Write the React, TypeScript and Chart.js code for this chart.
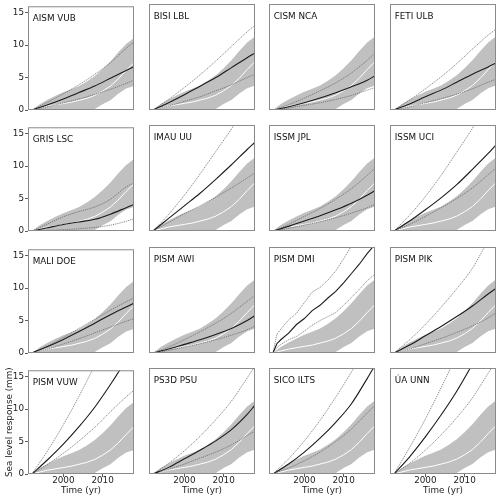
import React, { useEffect, useRef } from "react";
import { Chart, registerables } from "chart.js";

Chart.register(...registerables);

const FONT = "'DejaVu Sans', sans-serif";
const FS = 8.8;

const MODELS = [
  "AISM VUB", "BISI LBL", "CISM NCA", "FETI ULB",
  "GRIS LSC", "IMAU UU", "ISSM JPL", "ISSM UCI",
  "MALI DOE", "PISM AWI", "PISM DMI", "PISM PIK",
  "PISM VUW", "PS3D PSU", "SICO ILTS", "ÚA UNN",
];

const X_TICKS = [2000, 2010];
const Y_TICKS = [0, 5, 10, 15];

// observational envelope (grey band) and its median (white line)
const OBS_YEARS = [1992, 1994, 1996, 1998, 2000, 2002, 2004, 2006, 2008, 2010, 2012, 2014, 2016, 2018];
const OBS_UPPER = [0, 0.9, 1.6, 2.2, 2.75, 3.2, 3.7, 4.4, 5.25, 6.3, 7.5, 8.9, 10.2, 11.1];
const OBS_LOWER = [0, 0, 0, 0, 0, 0, 0, 0, 0.15, 0.9, 1.5, 2.5, 3.3, 3.7];
const OBS_MEDIAN = [0, 0.3, 0.6, 0.8, 1.0, 1.2, 1.5, 1.8, 2.25, 2.9, 3.7, 4.8, 6.1, 7.3];

// model years (smooth models) and PISM DMI years
const MODEL_YEARS = [1992, 1996, 2000, 2004, 2008, 2012, 2016, 2018];
const DMI_YEARS = [1992, 1993, 1994, 1996, 1998, 2000, 2002, 2004, 2006, 2008, 2010, 2012, 2014, 2016, 2018];

// model central estimate (black line)
const MODEL_MID = [
  [0, 0.8, 1.7, 2.7, 3.7, 4.9, 6.1, 6.7],
  [0, 1.1, 2.3, 3.6, 4.9, 6.4, 7.9, 8.6],
  [0, 0.5, 1.1, 1.8, 2.6, 3.5, 4.5, 5.15],
  [0, 0.9, 2.0, 3.0, 4.2, 5.4, 6.5, 7.1],
  [0, 0.5, 1.0, 1.4, 1.8, 2.6, 3.6, 4.1],
  [0, 1.9, 3.8, 5.7, 7.8, 10.0, 12.3, 13.4],
  [0, 0.7, 1.5, 2.3, 3.2, 4.2, 5.4, 6.1],
  [0, 1.5, 3.2, 5.0, 7.0, 9.3, 11.7, 13.0],
  [0, 1.0, 2.1, 3.3, 4.6, 5.9, 7.1, 7.7],
  [0, 0.6, 1.3, 2.0, 2.8, 3.7, 4.9, 5.65],
  [0, 1.4, 2.0, 3.0, 4.3, 5.2, 6.4, 7.2, 8.3, 9.3, 10.6, 12.0, 13.4, 15.0, 16.4],
  [0, 1.2, 2.6, 4.0, 5.5, 7.1, 8.9, 9.75],
  [0, 2.2, 4.6, 7.3, 10.3, 13.8, 17.6, 19.6],
  [0, 1.0, 2.3, 3.6, 5.0, 6.7, 9.0, 10.4],
  [0, 1.5, 3.3, 5.4, 7.8, 10.6, 14.4, 16.4],
  [0, 2.6, 5.6, 8.9, 12.5, 16.6, 21.0, 23.5],
];

// model upper bound (thin dotted line)
const MODEL_HIGH = [
  [0, 1.2, 2.5, 3.9, 5.5, 7.3, 9.5, 10.5],
  [0, 1.6, 3.4, 5.3, 7.4, 9.6, 11.8, 12.8],
  [0, 0.8, 1.8, 2.9, 4.1, 5.6, 7.5, 8.6],
  [0, 1.5, 3.2, 5.0, 7.0, 9.2, 11.3, 12.2],
  [0, 1.1, 2.2, 3.0, 3.7, 4.9, 6.8, 7.4],
  [0, 2.5, 5.4, 8.6, 12.0, 15.4, 19.2, 21.2],
  [0, 1.0, 2.2, 3.4, 4.8, 6.4, 8.4, 9.5],
  [0, 2.4, 5.2, 8.4, 11.9, 15.5, 19.5, 21.5],
  [0, 1.1, 2.4, 3.8, 5.2, 6.6, 7.9, 8.5],
  [0, 0.9, 2.0, 3.2, 4.5, 6.0, 7.8, 8.75],
  [0, 2.8, 3.6, 5.0, 6.0, 7.6, 9.2, 9.9, 11.0, 12.4, 14.2, 16.2, 18.5, 21.0, 23.0],
  [0, 2.0, 4.3, 6.9, 9.7, 12.8, 16.9, 18.5],
  [0, 3.6, 7.6, 12.0, 16.8, 22.0, 27.0, 30.0],
  [0, 1.6, 3.5, 5.7, 8.2, 11.0, 14.5, 16.3],
  [0, 2.3, 5.0, 8.1, 11.6, 15.4, 19.6, 21.8],
  [0, 4.0, 8.3, 13.0, 18.0, 23.5, 29.0, 32.0],
];

// model lower bound (thin dotted line)
const MODEL_LOW = [
  [0, 0.5, 1.1, 1.7, 2.4, 3.2, 4.1, 4.6],
  [0, 0.6, 1.3, 2.0, 2.9, 3.8, 4.9, 5.4],
  [0, 0.3, 0.7, 1.1, 1.6, 2.2, 3.0, 3.4],
  [0, 0.5, 1.1, 1.7, 2.4, 3.2, 4.2, 4.65],
  [0, 0.1, 0.2, 0.35, 0.55, 0.9, 1.5, 1.9],
  [0, 1.3, 2.6, 3.8, 5.1, 6.5, 8.0, 8.8],
  [0, 0.4, 0.9, 1.4, 2.0, 2.7, 3.5, 4.0],
  [0, 1.0, 2.2, 3.5, 4.9, 6.5, 8.5, 9.5],
  [0, 0.6, 1.4, 2.2, 3.1, 4.0, 4.9, 5.3],
  [0, 0.4, 0.9, 1.4, 2.0, 2.7, 3.5, 4.05],
  [0, 0.8, 1.3, 2.0, 2.5, 3.3, 4.2, 4.9, 5.5, 6.1, 7.2, 8.4, 9.6, 10.9, 11.9],
  [0, 0.6, 1.4, 2.2, 3.1, 4.1, 5.3, 6.05],
  [0, 1.5, 3.2, 5.1, 7.2, 9.6, 11.9, 12.9],
  [0, 0.7, 1.5, 2.4, 3.3, 4.4, 5.8, 6.5],
  [0, 0.9, 2.0, 3.3, 4.9, 6.8, 9.2, 10.4],
  [0, 1.6, 3.6, 5.9, 8.5, 11.5, 15.2, 17.0],
];

const COL_LEFT = [28, 149, 269, 390];
const ROW_TOP = [4, 125, 247, 368];
const PANEL = 106;
const PAD_L = 28;
const PAD_T = 4;
const PAD_R = 4;
const PAD_B = 24;
const CW = PAD_L + PANEL + PAD_R;
const CH = PAD_T + PANEL + PAD_B;

const pts = (xs: number[], ys: number[]) => xs.map((x, i) => ({ x, y: ys[i] }));

const framePlugin = {
  id: "frame",
  afterDatasetsDraw(chart: any, _args: any, opts: any) {
    const { ctx, chartArea: a } = chart;
    ctx.save();
    ctx.strokeStyle = "#8a8a8a";
    ctx.lineWidth = 1;
    ctx.strokeRect(a.left + 0.5, a.top + 0.5, a.right - a.left - 1, a.bottom - a.top - 1);
    ctx.fillStyle = "#111";
    ctx.font = `${FS}px ${FONT}`;
    ctx.textBaseline = "alphabetic";
    ctx.textAlign = "left";
    ctx.fillText(opts.label, a.left + 4.7, a.top + 14.7);
    ctx.restore();
  },
};

function Panel({ idx }: { idx: number }) {
  const ref = useRef<HTMLCanvasElement>(null);
  const row = Math.floor(idx / 4);
  const col = idx % 4;
  const left = COL_LEFT[col] - PAD_L;
  const top = ROW_TOP[row] - PAD_T;

  useEffect(() => {
    const isLeft = col === 0;
    const isBottom = row === 3;
    const isDmi = MODELS[idx] === "PISM DMI";
    const years = isDmi ? DMI_YEARS : MODEL_YEARS;
    const interp = isDmi ? "default" : "monotone";
    const font = { family: FONT, size: FS };
    const thin = {
      borderColor: "#5c5c5c",
      borderWidth: 0.7,
      borderDash: [1.3, 0.9],
      fill: false,
      order: 1,
      tension: 0,
      cubicInterpolationMode: interp,
    };
    const chart = new Chart(ref.current as HTMLCanvasElement, {
      type: "line",
      data: {
        datasets: [
          {
            data: pts(years, MODEL_MID[idx]),
            borderColor: "#1a1a1a",
            borderWidth: 1.1,
            fill: false,
            order: 0,
            tension: 0,
            cubicInterpolationMode: interp,
          },
          { ...thin, data: pts(years, MODEL_HIGH[idx]) },
          { ...thin, data: pts(years, MODEL_LOW[idx]) },
          {
            data: pts(OBS_YEARS, OBS_MEDIAN),
            borderColor: "#ffffff",
            borderWidth: 1.0,
            fill: false,
            order: 2,
            tension: 0,
          },
          {
            data: pts(OBS_YEARS, OBS_UPPER),
            borderWidth: 0,
            borderColor: "rgba(0,0,0,0)",
            backgroundColor: "#c0c0c0",
            fill: "+1",
            order: 3,
            tension: 0,
          },
          {
            data: pts(OBS_YEARS, OBS_LOWER),
            borderWidth: 0,
            borderColor: "rgba(0,0,0,0)",
            fill: false,
            order: 4,
            tension: 0,
          },
        ] as any,
      },
      options: {
        animation: false,
        responsive: false,
        devicePixelRatio: 1,
        events: [],
        layout: { autoPadding: false, padding: { left: 0, top: PAD_T, right: PAD_R, bottom: 0 } },
        elements: { point: { radius: 0 } },
        plugins: {
          legend: { display: false },
          tooltip: { enabled: false },
          frame: { label: MODELS[idx] },
        } as any,
        scales: {
          x: {
            type: "linear",
            min: 1991,
            max: 2018,
            afterBuildTicks: (s: any) => {
              s.ticks = X_TICKS.map((v) => ({ value: v }));
            },
            afterFit: (s: any) => {
              s.height = PAD_B;
            },
            ticks: {
              display: isBottom,
              color: "#222",
              font,
              padding: -1.8,
              maxRotation: 0,
              autoSkip: false,
              callback: (v: any) => String(v),
            },
            grid: {
              display: true,
              drawOnChartArea: false,
              drawTicks: isBottom,
              tickLength: 3,
              color: "#333",
              lineWidth: 0.8,
            },
            border: { display: false },
            title: {
              display: isBottom,
              text: "Time (yr)",
              color: "#222",
              font,
              padding: { top: 0, bottom: 2.5 },
            },
          },
          y: {
            type: "linear",
            min: 0,
            max: 16,
            afterBuildTicks: (s: any) => {
              s.ticks = Y_TICKS.map((v) => ({ value: v }));
            },
            afterFit: (s: any) => {
              s.width = PAD_L;
            },
            ticks: {
              display: isLeft,
              color: "#222",
              font,
              padding: 1,
              callback: (v: any) => String(v),
            },
            grid: {
              display: true,
              drawOnChartArea: false,
              drawTicks: isLeft,
              tickLength: 3,
              color: "#333",
              lineWidth: 0.8,
            },
            border: { display: false },
            title: {
              display: idx === 12,
              text: "Sea level response (mm)",
              color: "#222",
              font,
              padding: { top: 4, bottom: 0 },
            },
          },
        },
      } as any,
      plugins: [framePlugin as any],
    });
    return () => chart.destroy();
  }, [idx, row, col]);

  return (
    <canvas
      ref={ref}
      width={CW}
      height={CH}
      style={{ position: "absolute", left, top, width: CW, height: CH }}
    />
  );
}

export default function App() {
  return (
    <div
      style={{
        position: "fixed",
        left: 0,
        top: 0,
        width: 500,
        height: 500,
        background: "#ffffff",
        overflow: "hidden",
      }}
    >
      {MODELS.map((_, i) => (
        <Panel key={i} idx={i} />
      ))}
    </div>
  );
}
